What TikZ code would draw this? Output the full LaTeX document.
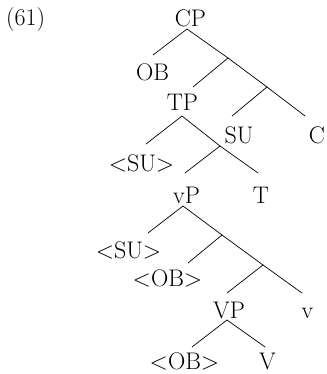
\documentclass[tikz,border=0pt]{standalone}
\begin{document}
\begin{tikzpicture}[x=1pt,y=-1pt,
  lab/.style={inner sep=0pt,anchor=base,font=\fontsize{24}{28}\selectfont},
  edge/.style={line width=0.7pt,line cap=round}]
\useasboundingbox (0,0) rectangle (326,374);
% labels
\node[lab,anchor=base west] (ex) at (6,26) {(61)};
\node[lab] (CP) at (190.5,27) {CP};
\node[lab] (OB) at (152.5,81) {OB};
\node[lab] (TP) at (182.5,111) {TP};
\node[lab] (SU) at (239,143) {SU};
\node[lab] (C) at (317,143) {C};
\node[lab] (SUa) at (141.5,171) {<SU>};
\node[lab] (vP) at (186.5,203) {vP};
\node[lab] (T) at (261,203) {T};
\node[lab] (SUb) at (128.5,258) {<SU>};
\node[lab] (OBa) at (167.5,286) {<OB>};
\node[lab] (VP) at (229,318) {VP};
\node[lab] (v) at (307.5,318) {v};
\node[lab] (OBb) at (184.5,369) {<OB>};
\node[lab] (V) at (267.5,369) {V};
% branch points and line ends
\coordinate (aCP) at (187,29);
\coordinate (eOB) at (153,55);
\coordinate (b1) at (228,58);
\coordinate (eTP) at (193,87);
\coordinate (b2) at (267,87);
\coordinate (eSU) at (232,116);
\coordinate (eC) at (305,116);
\coordinate (aTP) at (182,116);
\coordinate (eSUa) at (146,144);
\coordinate (b3) at (220,146);
\coordinate (evP) at (185,173);
\coordinate (eT) at (258,173);
\coordinate (avP) at (183,206);
\coordinate (eSUb) at (148,233);
\coordinate (b4) at (222,235);
\coordinate (eOBa) at (188,263);
\coordinate (b5) at (263,265);
\coordinate (eVP) at (227,293);
\coordinate (ev) at (302,293);
\coordinate (aVP) at (227,320);
\coordinate (eOBb) at (192,347);
\coordinate (eV) at (265,347);
% edges
\draw[edge] (eOB) -- (aCP) -- (b1);
\draw[edge] (eTP) -- (b1) -- (b2);
\draw[edge] (eSU) -- (b2) -- (eC);
\draw[edge] (eSUa) -- (aTP) -- (b3);
\draw[edge] (evP) -- (b3) -- (eT);
\draw[edge] (eSUb) -- (avP) -- (b4);
\draw[edge] (eOBa) -- (b4) -- (b5);
\draw[edge] (eVP) -- (b5) -- (ev);
\draw[edge] (eOBb) -- (aVP) -- (eV);
\end{tikzpicture}
\end{document}
